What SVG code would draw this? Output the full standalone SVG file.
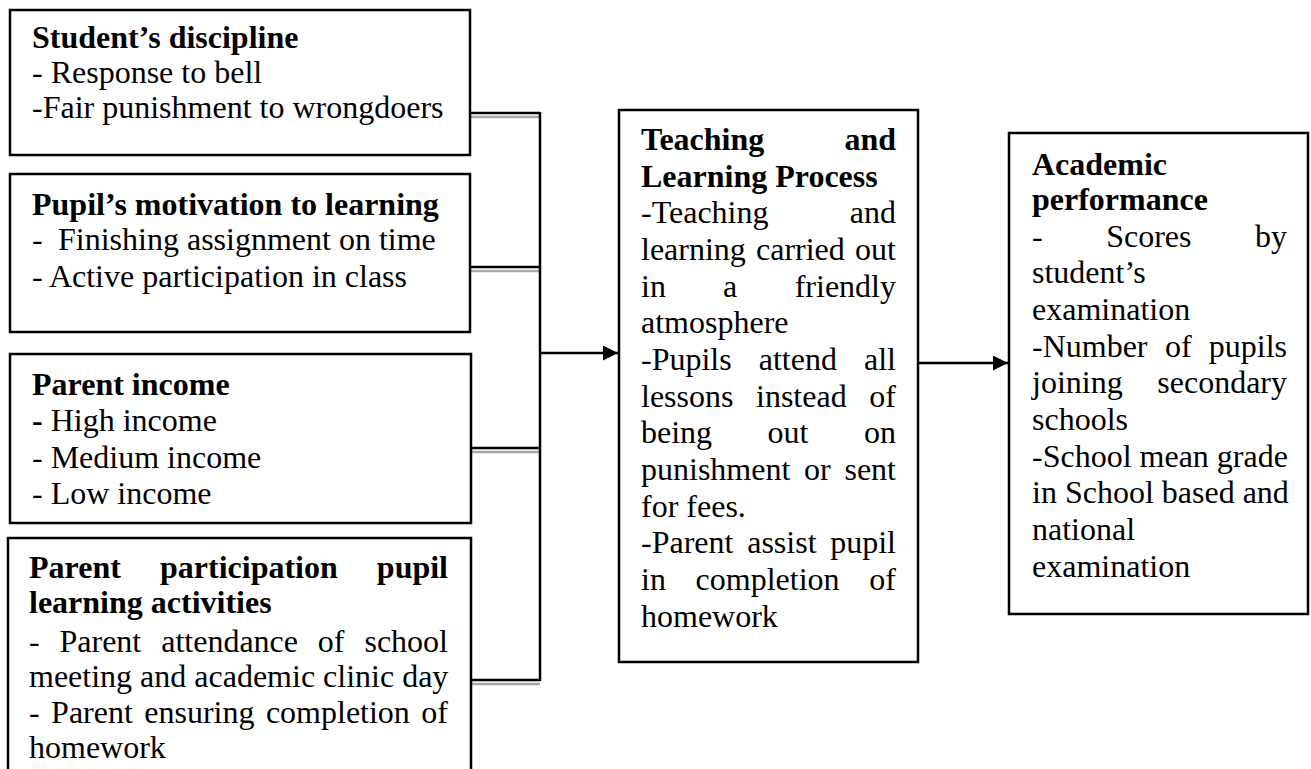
<svg xmlns="http://www.w3.org/2000/svg" width="1311" height="769" viewBox="0 0 1311 769">
<style>
.box{fill:#fff;stroke:#000;stroke-width:2.5}
.t{font-family:"Liberation Serif","Times New Roman",serif;font-size:32px;fill:#000}
.b{font-weight:bold}
.e{text-anchor:end}
.ln{stroke:#000;stroke-width:2.5;fill:none}
.sh{stroke:#a8a8a8;stroke-width:2.5;fill:none}
</style>
<defs>
<marker id="ah" markerWidth="16" markerHeight="16" refX="15" refY="7.5" orient="auto" markerUnits="userSpaceOnUse">
<path d="M0,0 L15,7.5 L0,15 Z" fill="#000"/>
</marker>
</defs>
<rect width="1311" height="769" fill="#fff"/>

<g id="connectors">
<line class="sh" x1="471" y1="117" x2="540" y2="117"/>
<line class="sh" x1="471" y1="271" x2="540" y2="271"/>
<line class="sh" x1="471" y1="452" x2="540" y2="452"/>
<line class="sh" x1="471" y1="684" x2="540" y2="684"/>
<line class="ln" x1="470" y1="113" x2="540" y2="113"/>
<line class="ln" x1="470" y1="267" x2="540" y2="267"/>
<line class="ln" x1="470" y1="448" x2="540" y2="448"/>
<line class="ln" x1="470" y1="680" x2="540" y2="680"/>
<line class="ln" x1="540" y1="112" x2="540" y2="681"/>
<line class="ln" x1="540" y1="353" x2="618" y2="353" marker-end="url(#ah)"/>
<line class="ln" x1="918" y1="363" x2="1008" y2="363" marker-end="url(#ah)"/>
</g>

<g id="box-discipline">
<rect class="box" x="10" y="10" width="460" height="145"/>
<text class="t b" x="32" y="48">Student’s discipline</text>
<text class="t" x="32" y="83">- Response to bell</text>
<text class="t" x="32" y="118">-Fair punishment to wrongdoers</text>
</g>

<g id="box-motivation">
<rect class="box" x="10" y="174" width="460" height="158"/>
<text class="t b" x="32" y="215">Pupil’s motivation to learning</text>
<text class="t" x="32" y="250">-</text>
<text class="t" x="58" y="250">Finishing assignment on time</text>
<text class="t" x="32" y="287">- Active participation in class</text>
</g>

<g id="box-income">
<rect class="box" x="10" y="354" width="461" height="169"/>
<text class="t b" x="32" y="395">Parent income</text>
<text class="t" x="32" y="431"><tspan class="b">-</tspan> High income</text>
<text class="t" x="32" y="468">- Medium income</text>
<text class="t" x="32" y="504">- Low income</text>
</g>

<g id="box-participation">
<path class="box" d="M8,790 L8,538 L471,538 L471,790"/>
<text class="t b" x="29" y="578">Parent</text>
<text class="t b" x="160" y="578">participation</text>
<text class="t b e" x="448" y="578">pupil</text>
<text class="t b" x="29" y="613">learning activities</text>
<text class="t" x="29" y="652">-</text>
<text class="t" x="59.5" y="652">Parent</text>
<text class="t" x="161.2" y="652">attendance</text>
<text class="t" x="317.8" y="652">of</text>
<text class="t e" x="448" y="652">school</text>
<text class="t" x="29" y="687">meeting and academic clinic day</text>
<text class="t" x="29" y="723">-</text>
<text class="t" x="51.1" y="723">Parent</text>
<text class="t" x="144.3" y="723">ensuring</text>
<text class="t" x="265.9" y="723">completion</text>
<text class="t e" x="448" y="723">of</text>
<text class="t" x="29" y="758">homework</text>
</g>

<g id="box-process">
<rect class="box" x="619" y="110" width="299" height="552"/>
<text class="t b" x="641" y="150">Teaching</text>
<text class="t b e" x="896" y="150">and</text>
<text class="t b" x="641" y="187">Learning Process</text>
<text class="t" x="641" y="223">-Teaching</text>
<text class="t e" x="896" y="223">and</text>
<text class="t" x="641" y="260">learning</text>
<text class="t" x="756" y="260">carried</text>
<text class="t e" x="896" y="260">out</text>
<text class="t" x="641" y="297">in</text>
<text class="t" x="723" y="297">a</text>
<text class="t e" x="896" y="297">friendly</text>
<text class="t" x="641" y="333">atmosphere</text>
<text class="t" x="641" y="370">-Pupils</text>
<text class="t" x="758.7" y="370">attend</text>
<text class="t e" x="896" y="370">all</text>
<text class="t" x="641" y="407">lessons</text>
<text class="t" x="756" y="407">instead</text>
<text class="t e" x="896" y="407">of</text>
<text class="t" x="641" y="443">being</text>
<text class="t" x="767.6" y="443">out</text>
<text class="t e" x="896" y="443">on</text>
<text class="t" x="641" y="480">punishment</text>
<text class="t" x="804" y="480">or</text>
<text class="t e" x="896" y="480">sent</text>
<text class="t" x="641" y="517">for fees.</text>
<text class="t" x="641" y="553">-Parent</text>
<text class="t" x="747.2" y="553">assist</text>
<text class="t e" x="896" y="553">pupil</text>
<text class="t" x="641" y="590">in</text>
<text class="t" x="695.6" y="590">completion</text>
<text class="t e" x="896" y="590">of</text>
<text class="t" x="641" y="627">homework</text>
</g>

<g id="box-performance">
<rect class="box" x="1009" y="133" width="299" height="481"/>
<text class="t b" x="1032" y="175">Academic</text>
<text class="t b" x="1032" y="210">performance</text>
<text class="t" x="1032" y="247">-</text>
<text class="t" x="1106.2" y="247">Scores</text>
<text class="t e" x="1287" y="247">by</text>
<text class="t" x="1032" y="283">student’s</text>
<text class="t" x="1032" y="320">examination</text>
<text class="t" x="1032" y="357">-Number</text>
<text class="t" x="1165" y="357">of</text>
<text class="t e" x="1287" y="357">pupils</text>
<text class="t" x="1032" y="393">joining</text>
<text class="t e" x="1287" y="393">secondary</text>
<text class="t" x="1032" y="430">schools</text>
<text class="t" x="1032" y="467">-School mean grade</text>
<text class="t" x="1032" y="503">in School based and</text>
<text class="t" x="1032" y="540">national</text>
<text class="t" x="1032" y="577">examination</text>
</g>
</svg>
